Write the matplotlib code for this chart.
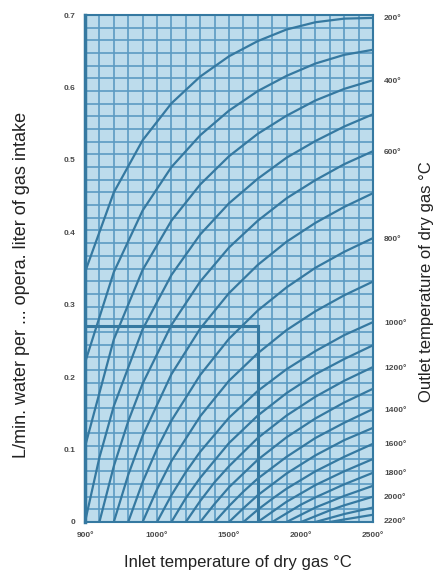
import matplotlib.pyplot as plt

# inlet temperature (x) and water rate (y)
curves = {
    200: ([500, 700, 900, 1100, 1300, 1500, 1700, 1900, 2100, 2300, 2500],
          [0.345, 0.455, 0.527, 0.578, 0.615, 0.643, 0.664, 0.680, 0.690, 0.695, 0.696]),
    300: ([500, 700, 900, 1100, 1300, 1500, 1700, 1900, 2100, 2300, 2500],
          [0.220, 0.345, 0.430, 0.490, 0.534, 0.568, 0.595, 0.616, 0.633, 0.645, 0.652]),
    400: ([500, 700, 900, 1100, 1300, 1500, 1700, 1900, 2100, 2300, 2500],
          [0.104, 0.252, 0.348, 0.416, 0.466, 0.505, 0.536, 0.561, 0.582, 0.598, 0.610]),
    500: ([500, 600, 700, 900, 1100, 1300, 1500, 1700, 1900, 2100, 2300, 2500],
          [0.0, 0.089, 0.160, 0.266, 0.341, 0.397, 0.440, 0.474, 0.503, 0.526, 0.546, 0.563]),
    600: ([600, 700, 800, 900, 1100, 1300, 1500, 1700, 1900, 2100, 2300, 2500],
          [0.0, 0.077, 0.139, 0.191, 0.272, 0.332, 0.379, 0.416, 0.447, 0.472, 0.494, 0.512]),
    700: ([700, 800, 900, 1100, 1300, 1500, 1700, 1900, 2100, 2300, 2500],
          [0.0, 0.065, 0.119, 0.204, 0.267, 0.316, 0.355, 0.387, 0.413, 0.435, 0.454]),
    800: ([800, 900, 1000, 1100, 1300, 1500, 1700, 1900, 2100, 2300, 2500],
          [0.0, 0.055, 0.101, 0.140, 0.203, 0.253, 0.292, 0.324, 0.351, 0.373, 0.392]),
    900: ([900, 1000, 1100, 1300, 1500, 1700, 1900, 2100, 2300, 2500],
          [0.0, 0.045, 0.084, 0.146, 0.195, 0.233, 0.265, 0.291, 0.313, 0.332]),
    1000: ([1000, 1100, 1200, 1300, 1500, 1700, 1900, 2100, 2300, 2500],
           [0.0, 0.037, 0.069, 0.097, 0.144, 0.181, 0.211, 0.236, 0.258, 0.276]),
    1100: ([1100, 1200, 1300, 1500, 1700, 1900, 2100, 2300, 2500],
           [0.0, 0.033, 0.061, 0.109, 0.147, 0.178, 0.204, 0.225, 0.244]),
    1200: ([1200, 1300, 1400, 1500, 1700, 1900, 2100, 2300, 2500],
           [0.0, 0.029, 0.055, 0.077, 0.116, 0.147, 0.173, 0.195, 0.214]),
    1300: ([1300, 1400, 1500, 1700, 1900, 2100, 2300, 2500],
           [0.0, 0.025, 0.048, 0.086, 0.117, 0.143, 0.165, 0.184]),
    1400: ([1400, 1500, 1600, 1700, 1900, 2100, 2300, 2500],
           [0.0, 0.022, 0.042, 0.060, 0.090, 0.116, 0.137, 0.156]),
    1500: ([1500, 1600, 1700, 1900, 2100, 2300, 2500],
           [0.0, 0.019, 0.037, 0.067, 0.092, 0.113, 0.130]),
    1600: ([1600, 1700, 1800, 1900, 2100, 2300, 2500],
           [0.0, 0.017, 0.032, 0.046, 0.070, 0.090, 0.108]),
    1700: ([1700, 1800, 1900, 2100, 2300, 2500],
           [0.0, 0.014, 0.028, 0.051, 0.070, 0.087]),
    1800: ([1800, 1900, 2000, 2100, 2300, 2500],
           [0.0, 0.012, 0.024, 0.034, 0.052, 0.068]),
    1900: ([1900, 2000, 2100, 2300, 2500],
           [0.0, 0.010, 0.020, 0.036, 0.050]),
    2000: ([2000, 2100, 2200, 2300, 2500],
           [0.0, 0.008, 0.016, 0.023, 0.035]),
    2100: ([2100, 2300, 2500],
           [0.0, 0.011, 0.020]),
    2200: ([2200, 2300, 2500],
           [0.0, 0.0035, 0.010]),
}

# reading example: inlet 1700 deg, water rate on the left scale
example_x = 1700
example_y = 0.27

x_ticks = [500, 1000, 1500, 2000, 2500]
x_labels = ['900°', '1000°', '1500°', '2000°', '2500°']
y_ticks = [0, 0.1, 0.2, 0.3, 0.4, 0.5, 0.6, 0.7]
y_labels = ['0', '0.1', '0.2', '0.3', '0.4', '0.5', '0.6', '0.7']
right_ticks = [0.696, 0.610, 0.511, 0.392, 0.276, 0.214, 0.156, 0.108, 0.068, 0.035, 0.002]
right_labels = ['200°', '400°', '600°', '800°', '1000°', '1200°', '1400°',
                '1600°', '1800°', '2000°', '2200°']

bg = '#bddcec'
grid_col = '#5b9bc2'
line_col = '#3579a1'

plt.rcParams['font.family'] = ['Liberation Sans', 'DejaVu Sans']

fig = plt.figure(figsize=(4.36, 5.74), dpi=100)
ax = fig.add_axes([85 / 436, 1 - 522 / 574, 288 / 436, 507 / 574])
ax.set_facecolor(bg)
ax.set_xlim(500, 2500)
ax.set_ylim(0, 0.7)

# fine grid: 20 columns, 40 rows
for gx in range(500, 2501, 100):
    ax.axvline(gx, color=grid_col, lw=1.2, zorder=1)
for i in range(41):
    ax.axhline(i * 0.0175, color=grid_col, lw=1.2, zorder=1)

for tout, (xs, ys) in curves.items():
    ax.plot(xs, ys, color=line_col, lw=1.6, zorder=3, solid_capstyle='round')

ax.plot([example_x, example_x], [0, example_y], color=line_col, lw=2.2, zorder=4)
ax.plot([500, example_x], [example_y, example_y], color=line_col, lw=2.2, zorder=4)

for s in ax.spines.values():
    s.set_color(line_col)
    s.set_linewidth(1.5)
ax.spines['left'].set_linewidth(2.5)

ax.set_xticks(x_ticks)
ax.set_xticklabels(x_labels)
ax.set_yticks(y_ticks)
ax.set_yticklabels(y_labels)
ax.tick_params(length=0, labelsize=6, labelcolor='#4a4a4a', pad=7)
for t in ax.get_xticklabels() + ax.get_yticklabels():
    t.set_fontweight('bold')

ax2 = ax.twinx()
ax2.set_ylim(0, 0.7)
ax2.set_yticks(right_ticks)
ax2.set_yticklabels(right_labels)
ax2.tick_params(length=0, labelsize=6, labelcolor='#4a4a4a', pad=8)
for t in ax2.get_yticklabels():
    t.set_fontweight('bold')
for s in ax2.spines.values():
    s.set_visible(False)

fig.text(238 / 436, 1 - 562 / 574, 'Inlet temperature of dry gas °C',
         ha='center', va='center', fontsize=12, color='#222222')
fig.text(22 / 436, 1 - 285 / 574, 'L/min. water per ... opera. liter of gas intake',
         ha='center', va='center', rotation=90, fontsize=13, color='#222222')
fig.text(426 / 436, 1 - 282 / 574, 'Outlet temperature of dry gas °C',
         ha='center', va='center', rotation=90, fontsize=12, color='#222222')

fig.savefig('out.png', dpi=100)
